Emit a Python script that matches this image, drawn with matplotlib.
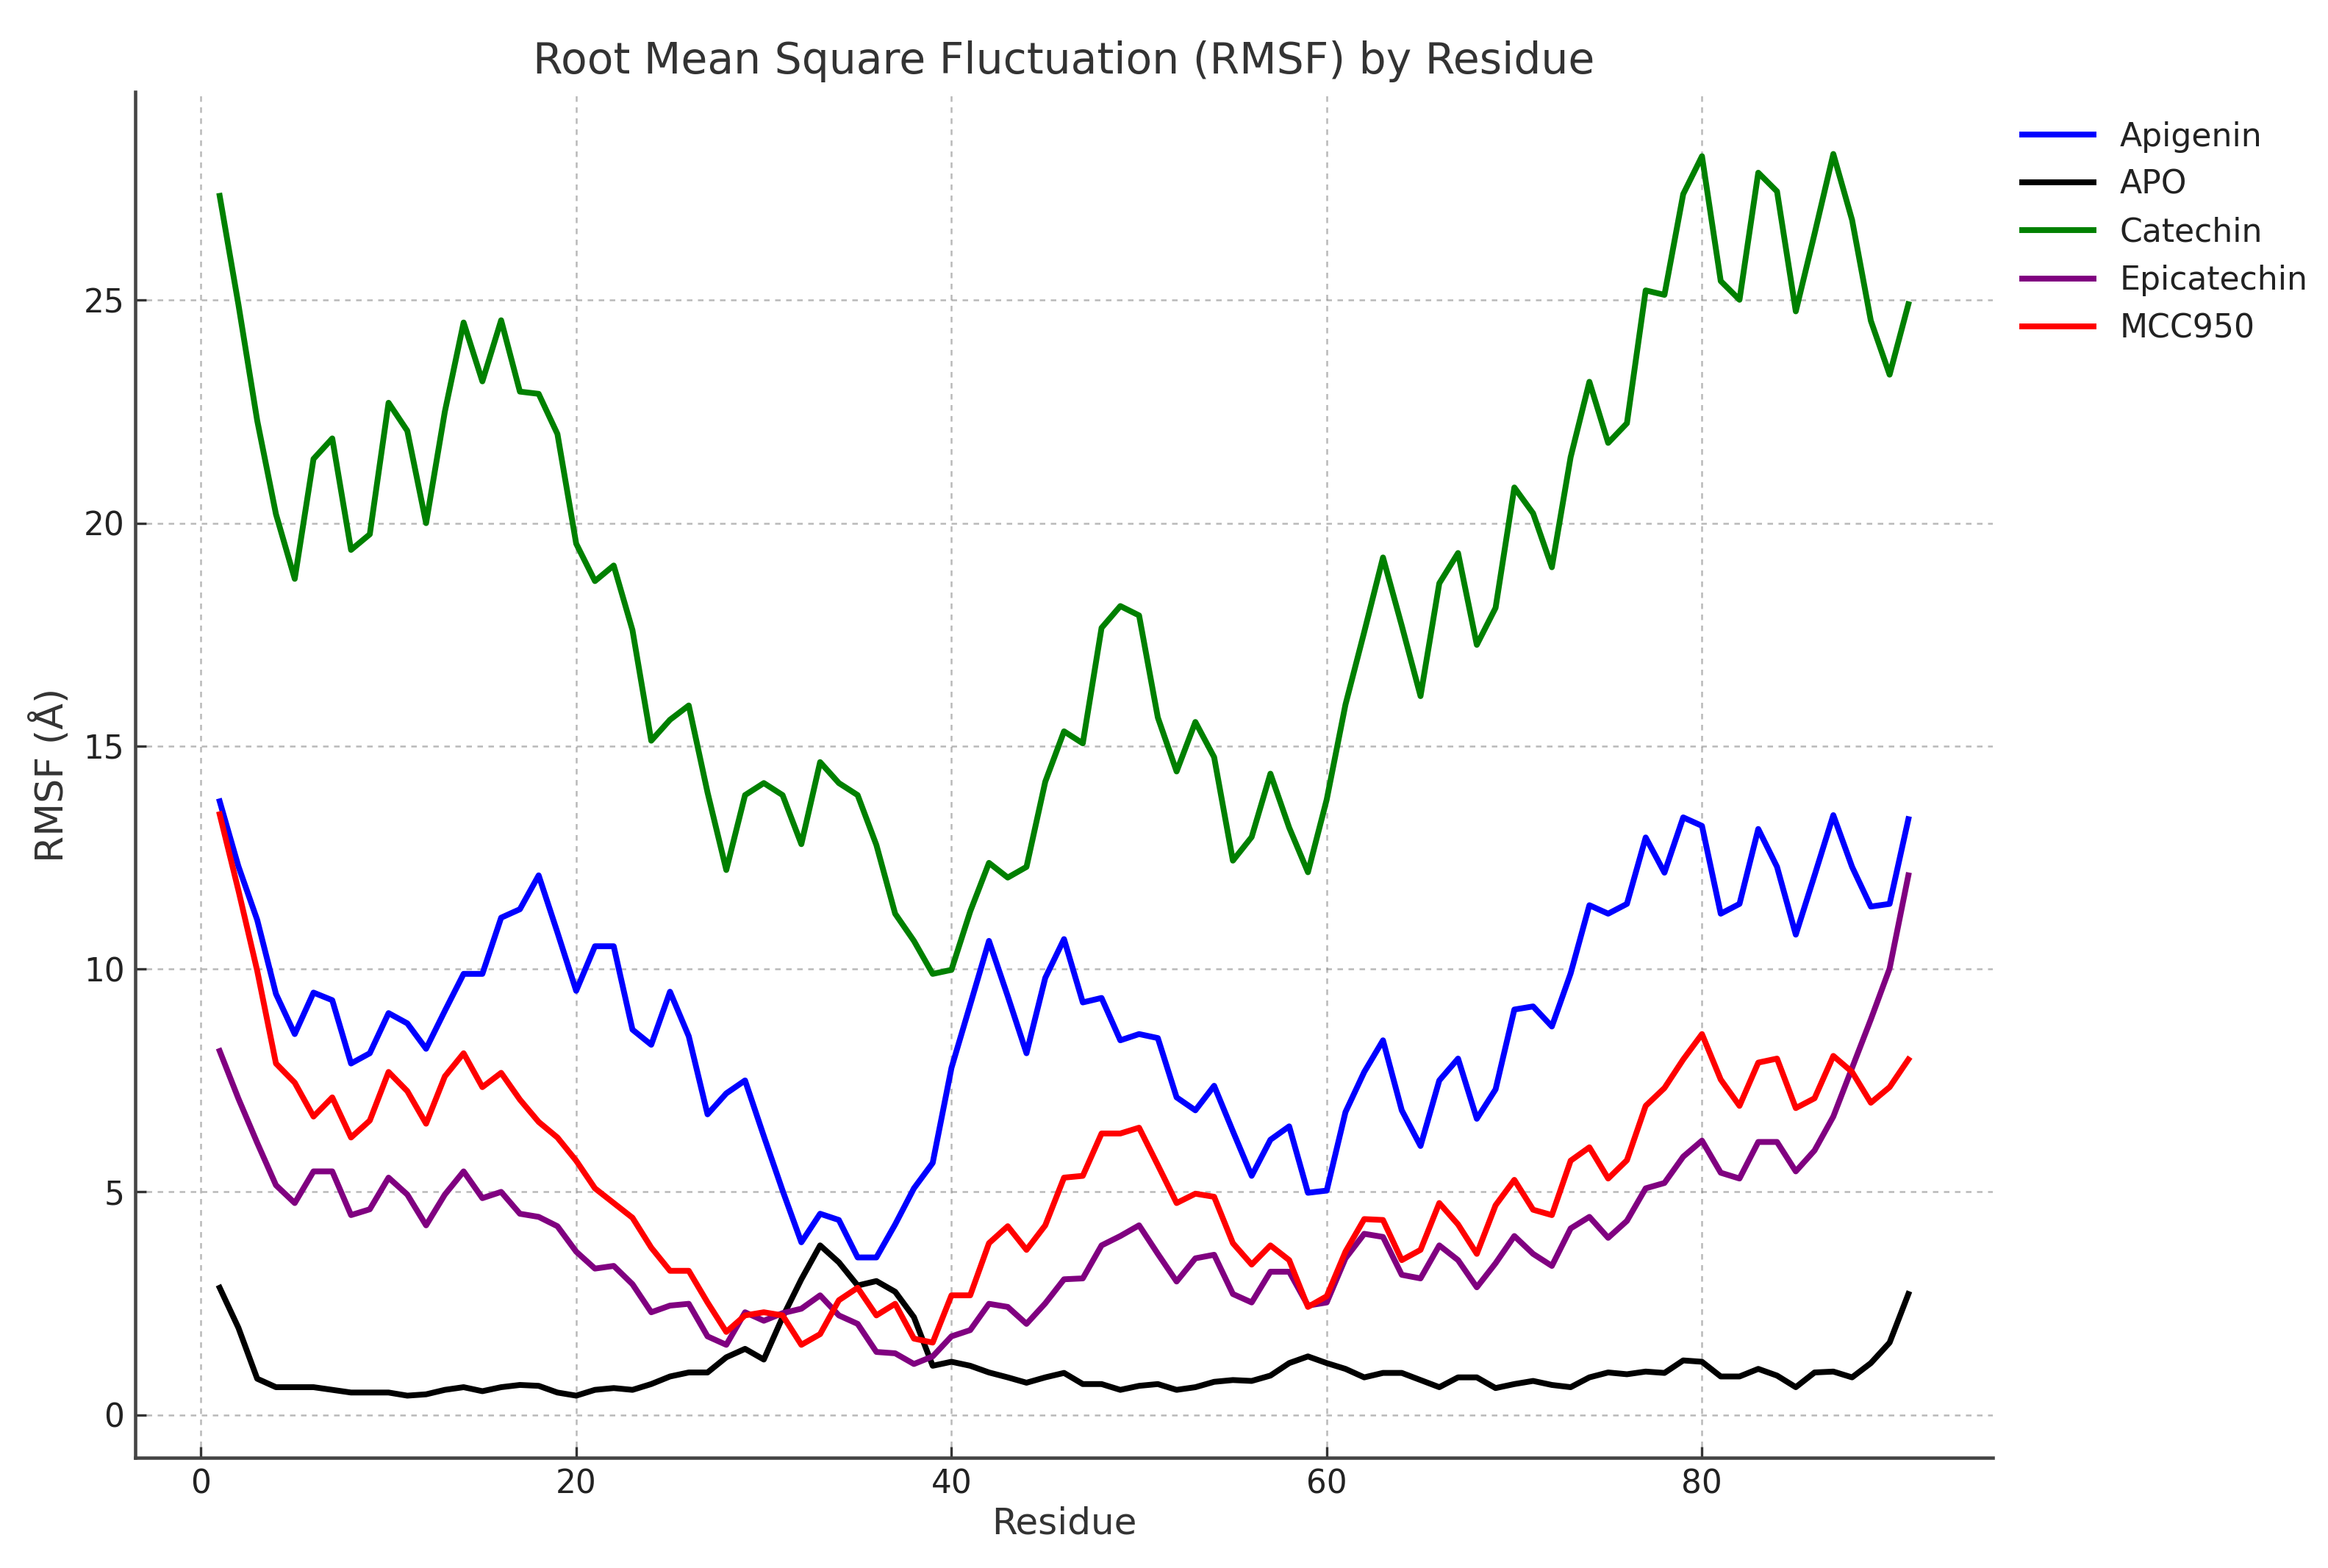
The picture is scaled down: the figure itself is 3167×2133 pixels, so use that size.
import matplotlib
matplotlib.use("Agg")
import matplotlib.pyplot as plt
import numpy as np

# residue numbers 1..91
residues = np.arange(1, 92)

apigenin = [13.76, 12.3, 11.1, 9.44, 8.54, 9.47, 9.3, 7.88, 8.11, 9.01,
            8.78, 8.21, 9.06, 9.89, 9.89, 11.15, 11.34, 12.1, 10.82, 9.51,
            10.51, 10.51, 8.64, 8.3, 9.49, 8.49, 6.74, 7.21, 7.5, 6.25,
            5.03, 3.87, 4.51, 4.37, 3.53, 3.53, 4.27, 5.08, 5.65, 7.78,
            9.2, 10.63, 9.39, 8.11, 9.8, 10.67, 9.25, 9.35, 8.4, 8.54,
            8.45, 7.12, 6.83, 7.38, 6.36, 5.36, 6.17, 6.47, 4.98, 5.03,
            6.79, 7.69, 8.4, 6.83, 6.03, 7.5, 7.99, 6.64, 7.3, 9.09,
            9.16, 8.71, 9.9, 11.43, 11.24, 11.46, 12.95, 12.16, 13.4, 13.21,
            11.24, 11.46, 13.14, 12.29, 10.77, 12.1, 13.45, 12.29, 11.4, 11.46,
            13.36]

apo = [2.85, 1.95, 0.81, 0.62, 0.62, 0.62, 0.56, 0.5, 0.5, 0.5,
       0.43, 0.46, 0.56, 0.62, 0.53, 0.62, 0.67, 0.65, 0.5, 0.43,
       0.56, 0.6, 0.56, 0.69, 0.86, 0.95, 0.95, 1.29, 1.48, 1.24,
       2.19, 3.04, 3.8, 3.42, 2.9, 3.0, 2.76, 2.19, 1.1, 1.19,
       1.1, 0.95, 0.84, 0.72, 0.84, 0.94, 0.69, 0.69, 0.56, 0.65,
       0.69, 0.56, 0.62, 0.74, 0.78, 0.76, 0.88, 1.16, 1.31, 1.16,
       1.03, 0.84, 0.94, 0.94, 0.78, 0.62, 0.84, 0.84, 0.6, 0.69,
       0.76, 0.67, 0.62, 0.84, 0.95, 0.91, 0.97, 0.94, 1.22, 1.19,
       0.86, 0.86, 1.03, 0.88, 0.62, 0.95, 0.97, 0.84, 1.16, 1.62,
       2.71]

catechin = [27.34, 24.9, 22.3, 20.2, 18.75, 21.44, 21.9, 19.4, 19.75, 22.7,
            22.07, 20.0, 22.5, 24.5, 23.18, 24.55, 22.95, 22.9, 22.0, 19.54,
            18.7, 19.05, 17.6, 15.12, 15.59, 15.91, 13.96, 12.22, 13.9, 14.17,
            13.9, 12.8, 14.64, 14.17, 13.9, 12.78, 11.24, 10.63, 9.89, 9.98,
            11.29, 12.38, 12.05, 12.29, 14.2, 15.33, 15.06, 17.65, 18.14, 17.93,
            15.64, 14.43, 15.54, 14.75, 12.43, 12.96, 14.38, 13.17, 12.17, 13.8,
            15.93, 17.56, 19.23, 17.7, 16.12, 18.65, 19.33, 17.27, 18.1, 20.8,
            20.22, 19.01, 21.48, 23.17, 21.8, 22.24, 25.22, 25.12, 27.38, 28.23,
            25.43, 25.01, 27.86, 27.44, 24.75, 26.49, 28.28, 26.8, 24.54, 23.33,
            24.91]

epicatechin = [8.16, 7.09, 6.1, 5.15, 4.75, 5.46, 5.46, 4.48, 4.61, 5.32,
               4.94, 4.25, 4.94, 5.46, 4.86, 5.0, 4.51, 4.44, 4.23, 3.66,
               3.28, 3.34, 2.93, 2.3, 2.45, 2.49, 1.76, 1.57, 2.3, 2.11,
               2.28, 2.38, 2.68, 2.23, 2.04, 1.41, 1.38, 1.14, 1.31, 1.76,
               1.9, 2.49, 2.42, 2.04, 2.5, 3.04, 3.06, 3.8, 4.01, 4.25,
               3.61, 2.99, 3.51, 3.59, 2.71, 2.52, 3.21, 3.21, 2.45, 2.52,
               3.51, 4.06, 3.99, 3.14, 3.06, 3.8, 3.47, 2.86, 3.4, 4.01,
               3.61, 3.34, 4.18, 4.44, 3.97, 4.35, 5.08, 5.2, 5.79, 6.15,
               5.43, 5.3, 6.12, 6.12, 5.46, 5.93, 6.69, 7.78, 8.87, 10.01,
               12.1]

mcc950 = [13.47, 11.76, 9.96, 7.88, 7.45, 6.69, 7.12, 6.22, 6.6, 7.69,
          7.26, 6.53, 7.59, 8.11, 7.35, 7.67, 7.07, 6.57, 6.22, 5.7,
          5.08, 4.75, 4.42, 3.75, 3.23, 3.23, 2.52, 1.86, 2.23, 2.3,
          2.23, 1.57, 1.81, 2.57, 2.85, 2.23, 2.49, 1.71, 1.62, 2.68,
          2.68, 3.85, 4.23, 3.7, 4.25, 5.32, 5.36, 6.31, 6.31, 6.44,
          5.6, 4.75, 4.96, 4.89, 3.85, 3.37, 3.8, 3.47, 2.42, 2.66,
          3.66, 4.39, 4.37, 3.47, 3.7, 4.75, 4.27, 3.61, 4.7, 5.27,
          4.6, 4.48, 5.7, 6.0, 5.3, 5.71, 6.93, 7.33, 7.97, 8.54,
          7.52, 6.93, 7.9, 7.99, 6.88, 7.1, 8.05, 7.69, 7.0, 7.35,
          7.97]

series = {
    'Apigenin': (apigenin, 'blue'),
    'APO': (apo, 'black'),
    'Catechin': (catechin, 'green'),
    'Epicatechin': (epicatechin, 'purple'),
    'MCC950': (mcc950, 'red'),
}

plt.rcParams['font.family'] = ['DejaVu Sans']

fig, ax = plt.subplots(figsize=(3167 / 300, 2133 / 300), dpi=300)
fig.subplots_adjust(left=184 / 3167, right=2711 / 3167,
                    bottom=1 - 1983 / 2133, top=1 - 125 / 2133)

for name, (vals, col) in series.items():
    ax.plot(residues, vals, color=col, lw=1.9, label=name)

ax.set_title('Root Mean Square Fluctuation (RMSF) by Residue', fontsize=14, color='#333333')
ax.set_xlabel('Residue', fontsize=12, color='#333333', labelpad=2)
ax.set_ylabel('RMSF (Å)', fontsize=12.5, color='#333333')
ax.tick_params(labelsize=10.5, direction='in', color='#333333', labelcolor='#222222')
ax.set_xticks([0, 20, 40, 60, 80])
ax.set_yticks([0, 5, 10, 15, 20, 25])

ax.grid(True, linestyle=(0, (3, 3)), color='gray', alpha=0.55, lw=0.6)
ax.spines['top'].set_visible(False)
ax.spines['right'].set_visible(False)
for side in ['left', 'bottom']:
    ax.spines[side].set_color('#444444')
    ax.spines[side].set_linewidth(1.1)

ax.legend(loc='upper left', bbox_to_anchor=(1.0, 1.0), frameon=False,
          fontsize=10.6, handlelength=2.2, labelcolor='#222222')

fig.savefig('out.png', dpi=300)
